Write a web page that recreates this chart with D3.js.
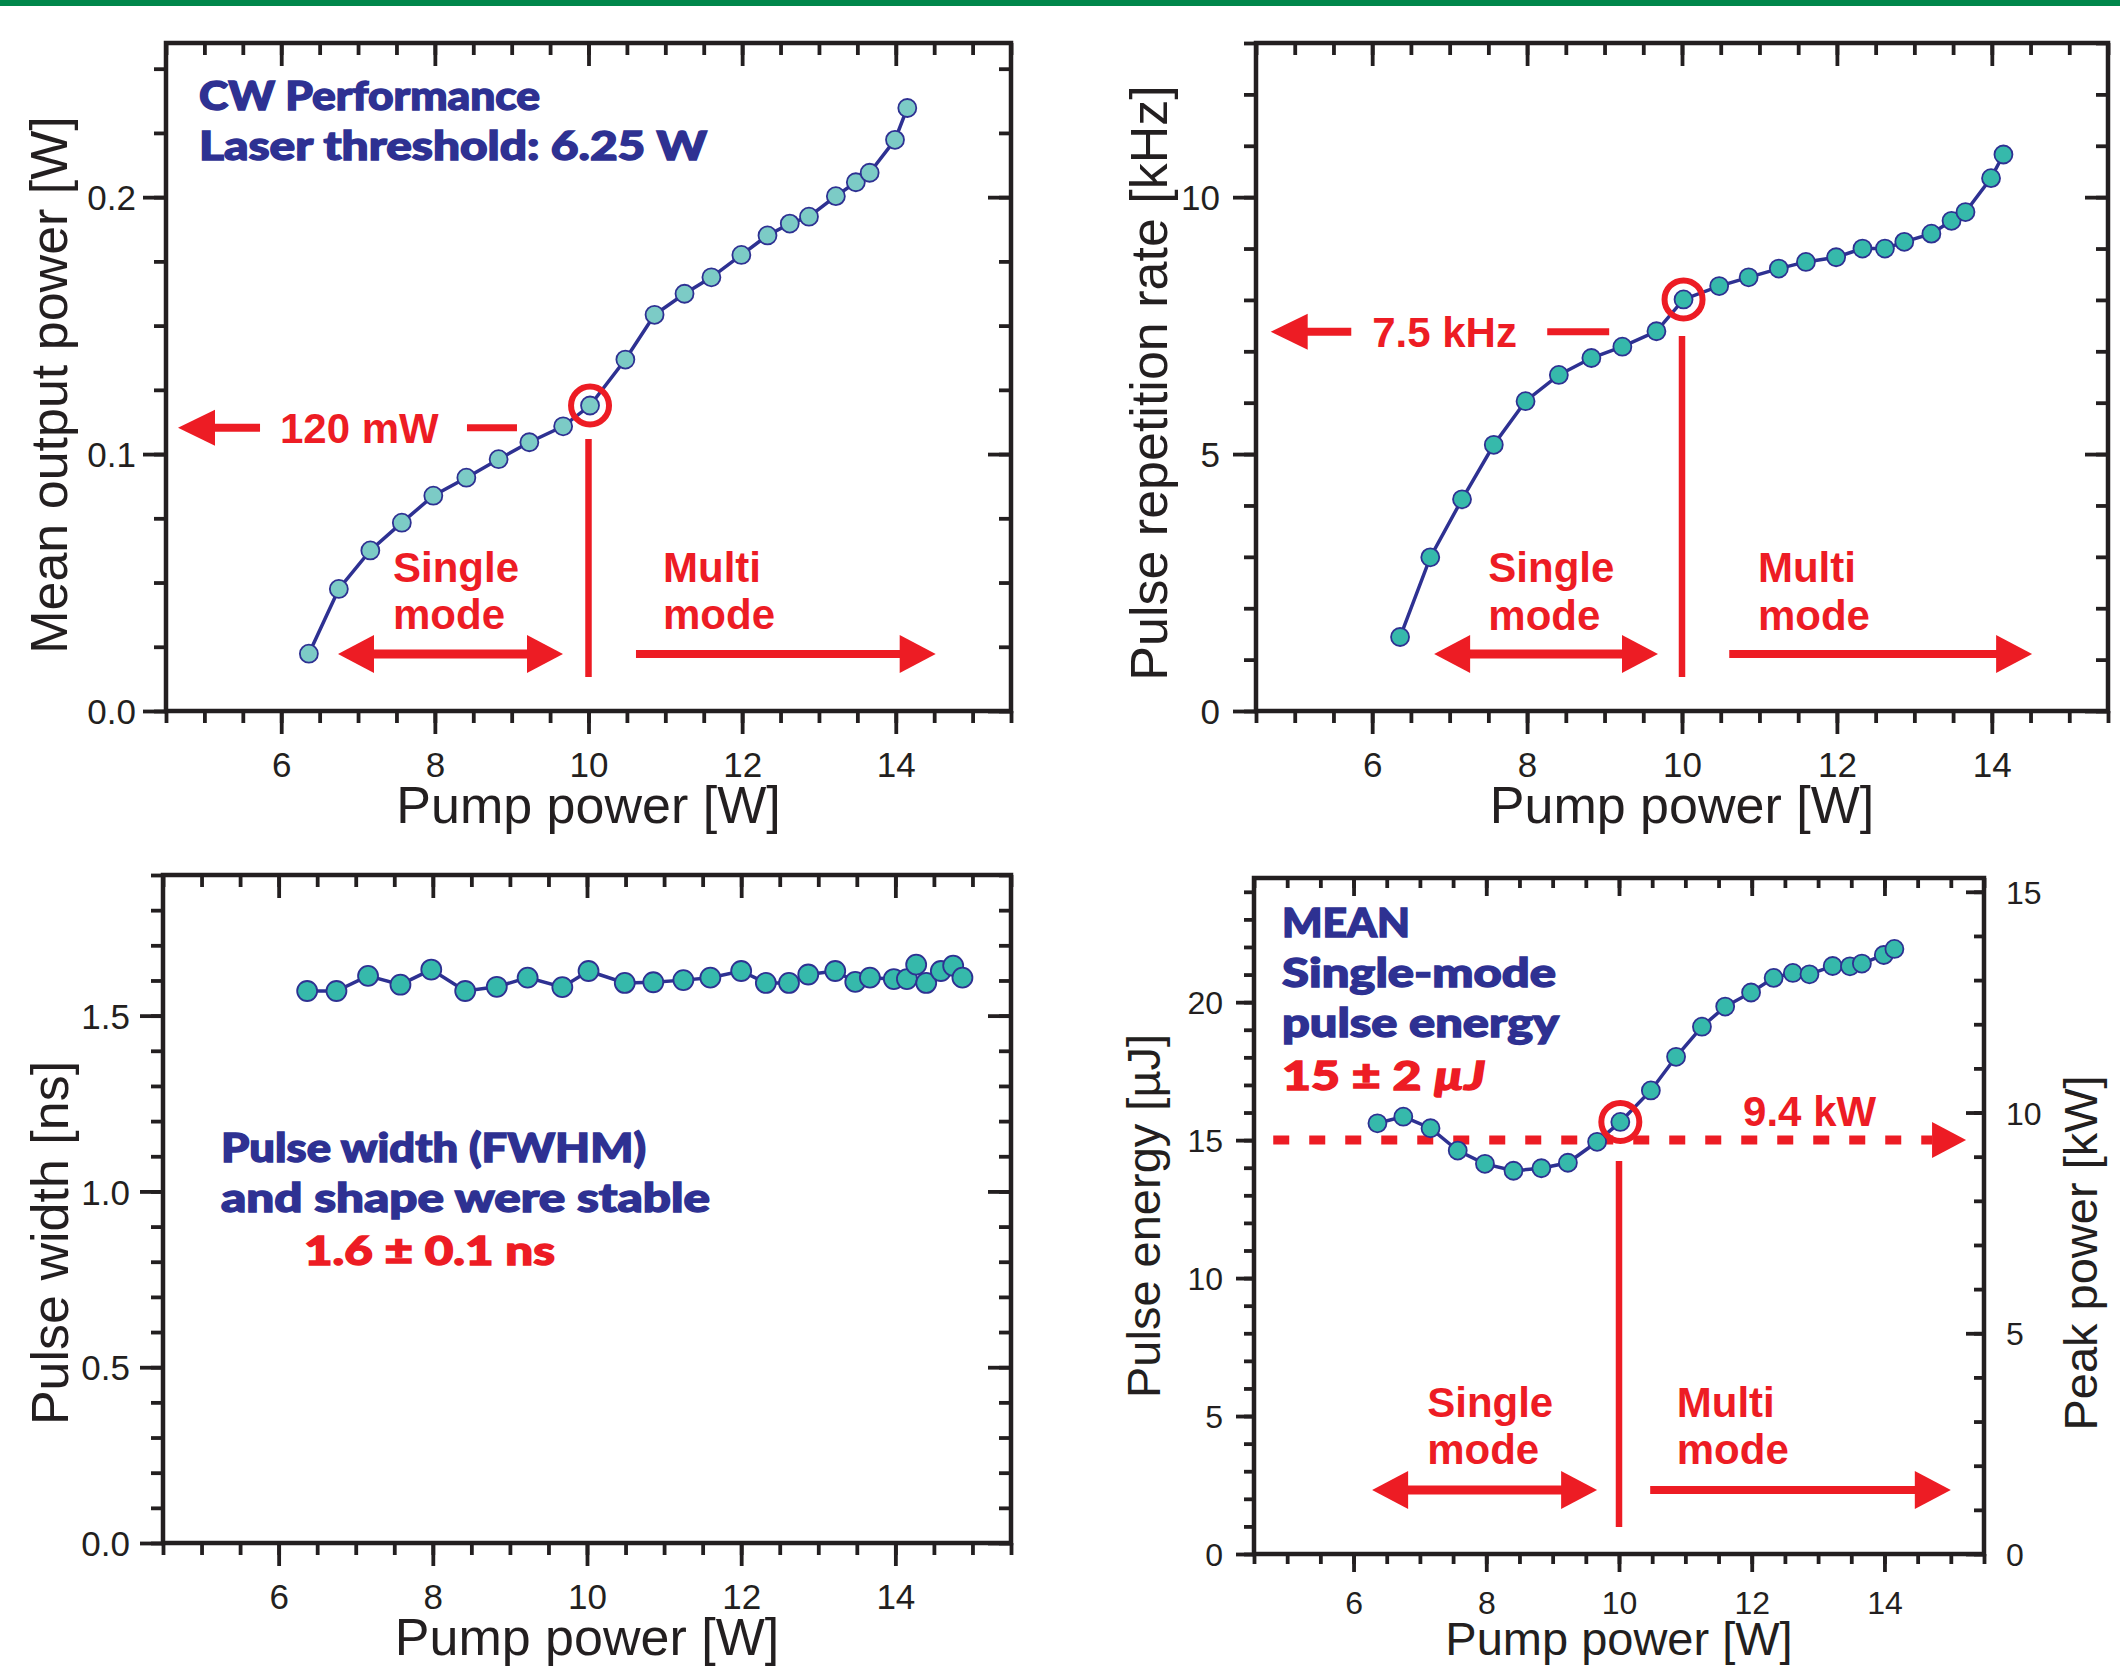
<!DOCTYPE html>
<html>
<head>
<meta charset="utf-8">
<script src="https://cdn.jsdelivr.net/npm/d3@7"></script>
<style>
  body { margin: 0; background: #fff; }
</style>
</head>
<body>
<script>
// ---- data ----
var pump = [6.36, 6.75, 7.16, 7.57, 7.98, 8.41, 8.83, 9.23, 9.67, 10.02, 10.48, 10.86,
            11.25, 11.60, 11.99, 12.33, 12.62, 12.87, 13.22, 13.48, 13.66, 13.99, 14.15];
var meanPower = [0.0223, 0.0475, 0.0625, 0.0733, 0.0838, 0.0908, 0.0980, 0.1046, 0.1108, 0.1189,
                 0.1368, 0.1542, 0.1624, 0.1688, 0.1775, 0.1851, 0.1897, 0.1924, 0.2004, 0.2058,
                 0.2095, 0.2223, 0.2347];
var repRate = [1.44, 2.99, 4.12, 5.18, 6.03, 6.54, 6.87, 7.09, 7.39, 8.01, 8.27, 8.44,
               8.61, 8.74, 8.83, 9.00, 9.00, 9.13, 9.29, 9.54, 9.71, 10.37, 10.83];
var pulseEnergy = [15.61, 15.85, 15.43, 14.62, 14.14, 13.89, 13.98, 14.18, 14.94, 15.66, 16.80, 18.02,
                   19.11, 19.84, 20.35, 20.88, 21.06, 21.01, 21.31, 21.30, 21.40, 21.71, 21.93];
var pumpWidth = [6.37, 6.75, 7.16, 7.58, 7.98, 8.42, 8.83, 9.23, 9.68, 10.02, 10.49, 10.86, 11.25, 11.60,
                 12.00, 12.32, 12.62, 12.87, 13.22, 13.48, 13.67, 13.98, 14.15, 14.27, 14.40, 14.59, 14.75, 14.87];
var pulseWidth = [1.570, 1.570, 1.613, 1.588, 1.631, 1.570, 1.582, 1.608, 1.581, 1.627, 1.593, 1.595, 1.601, 1.608,
                  1.627, 1.593, 1.593, 1.617, 1.627, 1.596, 1.608, 1.604, 1.604, 1.645, 1.593, 1.627, 1.642, 1.608];

var xTicks = [6, 8, 10, 12, 14];
var yTicksPower = [0, 0.1, 0.2];
var yTicksRate = [0, 5, 10];
var yTicksWidth = [0, 0.5, 1.0, 1.5];
var yTicksEnergy = [0, 5, 10, 15, 20];
var yTicksPeak = [0, 5, 10, 15];
var modeBoundary = 10;      // W, single -> multi mode
var highlightIndex = 9;     // point circled in red
var meanEnergy = 15;        // uJ, dashed line
var peakPerEnergy = 0.625;  // kW per uJ (1.6 ns pulses)

var RED = "#ed1c24", NAVY = "#2e3192", INK = "#231f20";
var ARIAL = "'Liberation Sans', Arial, sans-serif";
var HEAVY = "Lato, 'DejaVu Sans', sans-serif";

var svg = d3.select("body").append("svg")
    .attr("width", 2120)
    .attr("height", 1667);

svg.append("rect").attr("x", 0).attr("y", 0).attr("width", 2120).attr("height", 6).attr("fill", "#00874b");

var xMinor = d3.range(9, 32).map(function(i) { return i / 2; });

function drawAxes(box, x, y, o) {
  var g = svg.append("g");
  var bot = g.append("g").attr("transform", "translate(0," + box.bottom + ")");
  bot.append("g").call(d3.axisBottom(x).tickValues(xMinor).tickSize(o.minor).tickFormat(""));
  bot.append("g").call(d3.axisBottom(x).tickValues(xTicks).tickSize(o.major).tickFormat(d3.format("d")))
    .selectAll("text").attr("y", o.xLabelY).attr("dy", null).attr("font-size", o.tick);

  var top = g.append("g").attr("transform", "translate(0," + box.top + ")");
  top.append("g").call(d3.axisTop(x).tickValues(xMinor).tickSize(-o.minor).tickFormat(""));
  top.append("g").call(d3.axisTop(x).tickValues(xTicks).tickSize(-o.major).tickFormat(""));

  var left = g.append("g").attr("transform", "translate(" + box.left + ",0)");
  left.append("g").call(d3.axisLeft(y).tickValues(o.yMinor).tickSize(o.minor).tickFormat(""));
  left.append("g").call(d3.axisLeft(y).tickValues(o.yMajor).tickSize(o.major).tickFormat(d3.format(o.fmt)))
    .selectAll("text").attr("x", -o.yLabelX).attr("dy", "0.36em").attr("font-size", o.tick);

  var right = g.append("g").attr("transform", "translate(" + box.right + ",0)");
  var ry = o.y2 || y;
  right.append("g").call(d3.axisRight(ry).tickValues(o.y2 ? o.y2Minor : o.yMinor).tickSize(-o.minor).tickFormat(""));
  var rm = right.append("g").call(d3.axisRight(ry).tickValues(o.y2 ? o.y2Major : o.yMajor).tickSize(-o.major)
    .tickFormat(o.y2 ? d3.format("d") : ""));
  rm.selectAll("text").attr("x", 22).attr("dy", "0.36em").attr("font-size", o.tick);

  g.selectAll(".domain").remove();
  g.selectAll(".tick line").attr("stroke", INK).attr("stroke-width", 3.8);
  g.selectAll("text").attr("fill", INK).attr("font-family", ARIAL);

  g.append("rect")
    .attr("x", box.left).attr("y", box.top)
    .attr("width", box.right - box.left).attr("height", box.bottom - box.top)
    .attr("fill", "none").attr("stroke", INK).attr("stroke-width", 4.5);

  // axis titles
  svg.append("text")
    .attr("x", (box.left + box.right) / 2).attr("y", o.xTitleY)
    .attr("text-anchor", "middle").attr("font-family", ARIAL).attr("font-size", o.title).attr("fill", INK)
    .text("Pump power [W]");
  svg.append("text")
    .attr("transform", "translate(" + o.yTitleX + "," + o.yTitleC + ") rotate(-90)")
    .attr("text-anchor", "middle").attr("font-family", ARIAL).attr("font-size", o.title).attr("fill", INK)
    .text(o.yTitle);
}

function drawSeries(x, y, xs, ys, fill, r) {
  var pts = xs.map(function(d, i) { return [d, ys[i]]; });
  var line = d3.line().x(function(d) { return x(d[0]); }).y(function(d) { return y(d[1]); });
  svg.append("path").datum(pts)
    .attr("d", line).attr("fill", "none").attr("stroke", NAVY).attr("stroke-width", 3.5);
  svg.append("g").selectAll("circle")
    .data(pts).enter().append("circle")
    .attr("cx", function(d) { return x(d[0]); })
    .attr("cy", function(d) { return y(d[1]); })
    .attr("r", r)
    .attr("fill", fill).attr("stroke", NAVY).attr("stroke-width", 1.8);
}

function head(tx, ty, dir, len, half) {
  svg.append("path")
    .attr("d", "M" + tx + "," + ty + "L" + (tx - dir * len) + "," + (ty - half) + "L" + (tx - dir * len) + "," + (ty + half) + "Z")
    .attr("fill", RED);
}

function bar(x1, y1, x2, y2, w) {
  svg.append("line").attr("x1", x1).attr("y1", y1).attr("x2", x2).attr("y2", y2)
    .attr("stroke", RED).attr("stroke-width", w);
}

function redText(t, px, py) {
  svg.append("text").attr("x", px).attr("y", py)
    .attr("font-family", ARIAL).attr("font-weight", "bold").attr("font-size", 42).attr("fill", RED)
    .text(t);
}

function modeMarks(x, y, m) {
  bar(x(modeBoundary), y(m.vline[0]), x(modeBoundary), y(m.vline[1]), 6.5);
  redText("Single", x(m.singleX), y(m.textY[0]));
  redText("mode", x(m.singleX), y(m.textY[1]));
  redText("Multi", x(m.multiX), y(m.textY[0]));
  redText("mode", x(m.multiX), y(m.textY[1]));
  var ay = y(m.arrowY);
  bar(x(m.dbl[0]) + 34, ay, x(m.dbl[1]) - 34, ay, 9);
  head(x(m.dbl[0]), ay, -1, 36, 19);
  head(x(m.dbl[1]), ay, 1, 36, 19);
  bar(x(m.right[0]), ay, x(m.right[1]) - 34, ay, 8);
  head(x(m.right[1]), ay, 1, 36, 19);
}

function levelMark(x, y, l) {
  var ly = y(l.y);
  head(x(l.tip), ly, -1, 37, 18);
  bar(x(l.tip) + 35, ly, x(l.shaftEnd), ly, 8);
  redText(l.label, x(l.labelX), y(l.labelY));
  bar(x(l.dash[0]), ly, x(l.dash[1]), ly, 7);
}

function highlight(x, y, xs, ys) {
  svg.append("circle")
    .attr("cx", x(xs[highlightIndex])).attr("cy", y(ys[highlightIndex])).attr("r", 19)
    .attr("fill", "none").attr("stroke", RED).attr("stroke-width", 6);
}

function heavyText(lines, x, y, size) {
  lines.forEach(function(l) {
    var c = l.red ? RED : NAVY;
    var t = svg.append("text")
      .attr("x", x(l.x)).attr("y", y(l.y))
      .attr("font-family", HEAVY).attr("font-weight", 900).attr("font-size", size)
      .attr("fill", c).attr("stroke", c).attr("stroke-width", 1.4)
      .attr("textLength", l.w).attr("lengthAdjust", "spacingAndGlyphs");
    if (l.italic) {
      t.append("tspan").text(l.t);
      t.append("tspan").attr("font-style", "italic").text(l.italic);
    } else {
      t.text(l.t);
    }
  });
}

var xDomain = [4.5, 15.5];

// ---- panel A: mean output power ----
var boxA = { left: 166, right: 1011, top: 43, bottom: 711 };
var xA = d3.scaleLinear().domain(xDomain).range([boxA.left, boxA.right]);
var yA = d3.scaleLinear().domain([0, 0.26]).range([boxA.bottom, boxA.top]);
drawAxes(boxA, xA, yA, {
  minor: 12, major: 23, tick: 35, title: 52, xLabelY: 66, yLabelX: 30, fmt: ".1f",
  yMajor: yTicksPower, yMinor: d3.range(0, 11).map(function(i) { return i * 0.025; }),
  xTitleY: 823, yTitleX: 67, yTitleC: 385, yTitle: "Mean output power [W]"
});
levelMark(xA, yA, { tip: 4.656, shaftEnd: 5.724, y: 0.1102, label: "120 mW", labelX: 5.984, labelY: 0.1043, dash: [8.418, 9.069] });
modeMarks(xA, yA, { vline: [0.1059, 0.0132], singleX: 7.455, multiX: 10.97, textY: [0.0502, 0.0319],
                    arrowY: 0.0222, dbl: [6.739, 9.668], right: [10.618, 14.52] });
heavyText([
  { t: "CW Performance", x: 4.93, y: 0.2339, w: 341 },
  { t: "Laser threshold: 6.25 W", x: 4.93, y: 0.2145, w: 508 }
], xA, yA, 39);
drawSeries(xA, yA, pump, meanPower, "#7ccbc6", 9);
highlight(xA, yA, pump, meanPower);

// ---- panel B: repetition rate ----
var boxB = { left: 1256, right: 2108, top: 43, bottom: 711 };
var xB = d3.scaleLinear().domain(xDomain).range([boxB.left, boxB.right]);
var yB = d3.scaleLinear().domain([0, 13]).range([boxB.bottom, boxB.top]);
drawAxes(boxB, xB, yB, {
  minor: 12, major: 23, tick: 35, title: 52, xLabelY: 66, yLabelX: 36, fmt: "d",
  yMajor: yTicksRate, yMinor: d3.range(0, 14),
  xTitleY: 823, yTitleX: 1167, yTitleC: 383, yTitle: "Pulse repetition rate [kHz]"
});
levelMark(xB, yB, { tip: 4.69, shaftEnd: 5.73, y: 7.38, label: "7.5 kHz", labelX: 6.0, labelY: 7.08, dash: [8.26, 9.06] });
modeMarks(xB, yB, { vline: [7.30, 0.66], singleX: 7.5, multiX: 10.98, textY: [2.51, 1.58],
                    arrowY: 1.11, dbl: [6.80, 9.69], right: [10.61, 14.52] });
drawSeries(xB, yB, pump, repRate, "#36b9ab", 9);
highlight(xB, yB, pump, repRate);

// ---- panel C: pulse width ----
var boxC = { left: 163, right: 1011, top: 875, bottom: 1543 };
var xC = d3.scaleLinear().domain(xDomain).range([boxC.left, boxC.right]);
var yC = d3.scaleLinear().domain([0, 1.9]).range([boxC.bottom, boxC.top]);
drawAxes(boxC, xC, yC, {
  minor: 12, major: 23, tick: 35, title: 52, xLabelY: 66, yLabelX: 33, fmt: ".1f",
  yMajor: yTicksWidth, yMinor: d3.range(0, 20).map(function(i) { return i / 10; }),
  xTitleY: 1655, yTitleX: 68, yTitleC: 1243, yTitle: "Pulse width [ns]"
});
heavyText([
  { t: "Pulse width (FWHM)", x: 5.252, y: 1.0836, w: 425 },
  { t: "and shape were stable", x: 5.252, y: 0.9414, w: 489 },
  { t: "1.6 \u00b1 0.1 ns", x: 6.329, y: 0.7907, w: 251, red: true }
], xC, yC, 39);
drawSeries(xC, yC, pumpWidth, pulseWidth, "#36b9ab", 10);

// ---- panel D: pulse energy / peak power ----
var boxD = { left: 1254, right: 1984, top: 878, bottom: 1554 };
var xD = d3.scaleLinear().domain(xDomain).range([boxD.left, boxD.right]);
var yD = d3.scaleLinear().domain([0, 24.5]).range([boxD.bottom, boxD.top]);
var yD2 = d3.scaleLinear().domain([0, 24.5 * peakPerEnergy]).range([boxD.bottom, boxD.top]);
drawAxes(boxD, xD, yD, {
  minor: 10, major: 18, tick: 32, title: 47, xLabelY: 60, yLabelX: 31, fmt: "d",
  yMajor: yTicksEnergy, yMinor: d3.range(0, 25),
  y2: yD2, y2Major: yTicksPeak, y2Minor: d3.range(0, 16),
  xTitleY: 1655, yTitleX: 1160, yTitleC: 1216, yTitle: "Pulse energy [\u00b5J]"
});
svg.append("text")
  .attr("transform", "translate(2097,1253) rotate(-90)")
  .attr("text-anchor", "middle").attr("font-family", ARIAL).attr("font-size", 47).attr("fill", INK)
  .text("Peak power [kW]");

// dashed mean-energy line with arrow to the peak power axis
svg.append("line")
  .attr("x1", xD(4.79)).attr("x2", xD(15.23) - 34)
  .attr("y1", yD(meanEnergy)).attr("y2", yD(meanEnergy))
  .attr("stroke", RED).attr("stroke-width", 9).attr("stroke-dasharray", "16,20");
head(xD(15.23), yD(meanEnergy), 1, 34, 18);
redText("9.4 kW", xD(11.87), yD(15.51));
modeMarks(xD, yD, { vline: [14.24, 0.98], singleX: 7.11, multiX: 10.87, textY: [4.97, 3.26],
                    arrowY: 2.32, dbl: [6.28, 9.67], right: [10.47, 15.0] });
heavyText([
  { t: "MEAN", x: 4.922, y: 22.36, w: 128 },
  { t: "Single-mode", x: 4.922, y: 20.55, w: 274 },
  { t: "pulse energy", x: 4.922, y: 18.74, w: 277 },
  { t: "15 \u00b1 2 ", italic: "\u00b5J", x: 4.922, y: 16.82, w: 203, red: true }
], xD, yD, 40);
drawSeries(xD, yD, pump, pulseEnergy, "#36b9ab", 9);
highlight(xD, yD, pump, pulseEnergy);
</script>
</body>
</html>
